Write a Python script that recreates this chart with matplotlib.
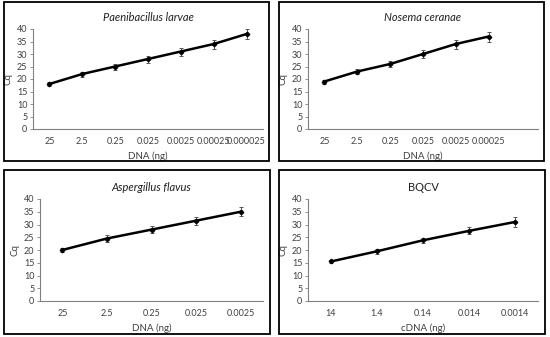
import matplotlib.pyplot as plt
from matplotlib.patches import Rectangle

plt.rcParams['font.family'] = ['Lato', 'DejaVu Sans']

# Paenibacillus larvae
pl_x = ['25', '2.5', '0.25', '0.025', '0.0025', '0.00025', '0.000025']
pl_cq = [18, 22, 25, 28, 31, 34, 38]
pl_err = [0.8, 1.0, 1.2, 1.4, 1.6, 1.8, 2.0]

# Nosema ceranae (7 category slots, last one empty)
nc_x = ['25', '2.5', '0.25', '0.025', '0.0025', '0.00025', '']
nc_cq = [19, 23, 26, 30, 34, 37]
nc_err = [0.8, 1.0, 1.3, 1.5, 1.8, 2.0]

# Aspergillus flavus
af_x = ['25', '2.5', '0.25', '0.025', '0.0025']
af_cq = [20, 24.5, 28, 31.5, 35]
af_err = [0.9, 1.2, 1.4, 1.6, 1.8]

# BQCV
bq_x = ['14', '1.4', '0.14', '0.014', '0.0014']
bq_cq = [15.5, 19.5, 23.8, 27.5, 31]
bq_err = [0.6, 0.9, 1.1, 1.4, 1.8]

W, H = 550, 337
fig = plt.figure(figsize=(5.5, 3.37), dpi=100)

panels = [
    # title, italic, cats, y, err, xlabel, axes box (px: left, top, right, bottom), border box
    ('Paenibacillus larvae', True, pl_x, pl_cq, pl_err, 'DNA (ng)', (33, 29, 263, 129), (4, 2, 269, 161)),
    ('Nosema ceranae', True, nc_x, nc_cq, nc_err, 'DNA (ng)', (308, 29, 538, 129), (279, 2, 544, 161)),
    ('Aspergillus flavus', True, af_x, af_cq, af_err, 'DNA (ng)', (40, 199, 263, 301), (4, 170, 270, 334)),
    ('BQCV', False, bq_x, bq_cq, bq_err, 'cDNA (ng)', (308, 199, 538, 301), (279, 170, 545, 334)),
]

for title, italic, cats, cq, err, xlab, ab, bb in panels:
    l, t, r, b = ab
    ax = fig.add_axes([l / W, 1 - b / H, (r - l) / W, (b - t) / H])
    n = len(cats)
    xs = list(range(len(cq)))
    ax.errorbar(xs, cq, yerr=err, color='black', lw=1.8, marker='D', ms=2.3,
                ecolor='#555555', elinewidth=0.7, capsize=1.5, capthick=0.7)
    ax.set_xlim(-0.5, n - 0.5)
    ax.set_ylim(0, 40)
    ax.set_yticks(range(0, 41, 5))
    ax.set_xticks(range(n))
    ax.set_xticklabels(cats)
    for s in ['top', 'right']:
        ax.spines[s].set_visible(False)
    for s in ['left', 'bottom']:
        ax.spines[s].set_color('#808080')
        ax.spines[s].set_linewidth(0.8)
    ax.tick_params(axis='y', length=2, width=0.6, color='#808080', labelsize=6.5, pad=2, labelcolor='#404040')
    ax.tick_params(axis='x', length=0, labelsize=6.5, pad=6, labelcolor='#404040')
    ax.set_ylabel('Cq', fontsize=7, color='#404040', labelpad=3)
    ax.set_xlabel(xlab, fontsize=7, color='#404040', labelpad=4)
    ax.set_title(title, fontsize=8, style='italic' if italic else 'normal', color='#202020', pad=6)
    fig.add_artist(Rectangle((bb[0] / W, 1 - bb[3] / H), (bb[2] - bb[0]) / W, (bb[3] - bb[1]) / H,
                             transform=fig.transFigure, fill=False, ec='black', lw=1.3))

fig.savefig('out.png', dpi=100)
